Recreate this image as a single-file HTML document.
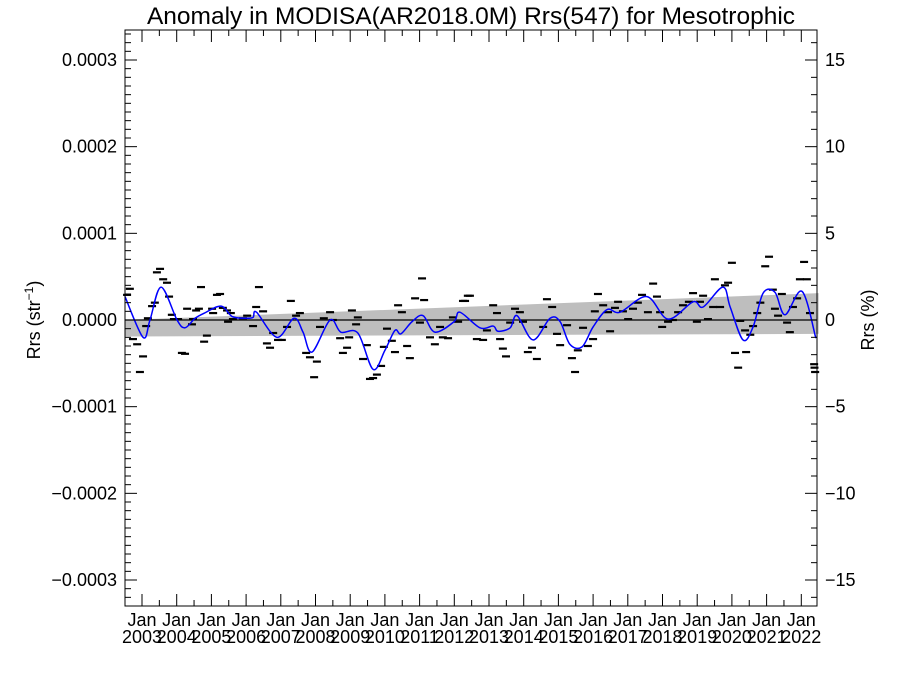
<!DOCTYPE html>
<html><head><meta charset="utf-8"><style>
body{margin:0;background:#fff;}
svg{display:block;font-family:"Liberation Sans",sans-serif;}
</style></head><body>
<svg id="chart" width="900" height="675" viewBox="0 0 900 675">
<text x="471" y="24" text-anchor="middle" font-size="24.5">Anomaly in MODISA(AR2018.0M) Rrs(547) for Mesotrophic</text>
<text transform="translate(40,320) rotate(-90)" text-anchor="middle" font-size="18">Rrs (str<tspan dy="-7" font-size="12">−1</tspan><tspan dy="7">)</tspan></text>
<text transform="translate(874,320) rotate(-90)" text-anchor="middle" font-size="18">Rrs (%)</text>
<g id="plot"></g>
</svg>
<script>
const lineYears=[2002.51,2003.03,2003.23,2003.55,2004.01,2004.24,2004.53,2004.8,2005.28,2005.6,2006.0,2006.2,2006.3,2006.89,2007.38,2007.64,2007.9,2008.42,2008.73,2009.22,2009.66,2010.0,2010.29,2010.46,2010.78,2011.1,2011.44,2011.99,2012.16,2012.74,2013.12,2013.26,2013.61,2013.81,2014.27,2014.76,2015.05,2015.33,2015.68,2016.0,2016.4,2016.78,2017.55,2018.16,2018.88,2019.17,2019.74,2019.95,2020.32,2020.61,2020.9,2021.24,2021.53,2022.02,2022.42];
const lineValues=[2.7,-2.0,0,3.8,0,-0.9,0.2,0.8,1.6,0.4,0.2,0.3,0.9,-2.0,0.2,-1.4,-3.7,0,-1.4,-1.5,-5.7,-3.5,-1.2,-1.6,-0.2,0.5,-1.4,-0.2,0.9,-0.9,-0.7,-1.3,-0.9,0.5,-2.3,0.2,-0.2,-2.8,-3.1,-0.8,1.2,0.9,2.7,0.1,2.1,1.5,3.8,1.5,-2.3,-0.8,3.1,3.2,0.6,3.3,-2.1];
const pointYears=[2002.57,2002.65,2002.74,2002.86,2002.94,2003.03,2003.12,2003.17,2003.29,2003.37,2003.43,2003.52,2003.61,2003.72,2003.78,2003.86,2003.92,2004.04,2004.15,2004.24,2004.30,2004.44,2004.47,2004.56,2004.64,2004.70,2004.79,2004.87,2005.02,2005.05,2005.16,2005.25,2005.33,2005.45,2005.48,2005.56,2005.62,2005.91,2006.03,2006.20,2006.29,2006.37,2006.49,2006.60,2006.69,2006.78,2006.92,2007.03,2007.18,2007.29,2007.44,2007.55,2007.73,2007.84,2007.96,2008.04,2008.13,2008.24,2008.42,2008.50,2008.71,2008.79,2008.91,2008.97,2009.05,2009.17,2009.22,2009.37,2009.48,2009.57,2009.66,2009.77,2009.89,2009.97,2010.06,2010.20,2010.29,2010.38,2010.49,2010.64,2010.72,2010.87,2011.01,2011.07,2011.13,2011.30,2011.44,2011.59,2011.67,2011.82,2011.96,2012.11,2012.25,2012.39,2012.31,2012.45,2012.65,2012.83,2012.94,2013.12,2013.23,2013.32,2013.40,2013.49,2013.61,2013.75,2013.89,2013.98,2014.12,2014.24,2014.38,2014.56,2014.67,2014.82,2014.96,2015.05,2015.25,2015.39,2015.48,2015.56,2015.71,2015.85,2016.00,2016.05,2016.14,2016.29,2016.43,2016.49,2016.63,2016.72,2016.86,2017.01,2017.15,2017.29,2017.41,2017.58,2017.73,2017.84,2017.93,2017.99,2018.16,2018.30,2018.45,2018.59,2018.76,2018.88,2018.99,2019.08,2019.17,2019.31,2019.46,2019.51,2019.66,2019.80,2019.89,2020.00,2020.09,2020.18,2020.24,2020.38,2020.41,2020.53,2020.61,2020.73,2020.82,2020.96,2021.07,2021.18,2021.24,2021.33,2021.44,2021.59,2021.67,2021.76,2021.88,2021.96,2022.08,2022.16,2022.25,2022.37,2022.38,2022.40];
const pointValues=[2.9,3.6,-2.2,-2.8,-6,-4.2,-0.7,0.2,1.6,2,5.5,5.9,4.7,4.3,2.7,0.6,0.1,0.1,-3.8,-3.9,1.3,-0.5,0.1,1.1,1.3,3.8,-2.5,-1.8,1.3,0.8,2.9,3,1.4,1.1,-0.2,0.8,0.1,0.2,0.5,-0.7,1.5,3.8,1,-2.7,-3.2,-1.5,-2.3,-2.3,-0.8,2.2,0.5,0.8,-3.8,-4.3,-6.6,-4.8,-0.8,0.2,0.9,0,-2.1,-3.8,-3.2,-2,1.1,-0.5,0.3,-4.5,-2.9,-6.8,-6.7,-6.3,-5.3,-3.1,-1,-2.4,-3.7,1.7,0.9,-3,-4.4,2.5,-0.3,4.8,2.3,-2,-2.8,-0.8,-2,-2.1,0.3,-0.2,2.2,2.8,2.2,2.8,-2.2,-2.3,-1.2,1.7,0.8,-2.2,-3.3,-4.2,-0.3,1.3,0.9,-0.2,-3.7,-3.2,-4.5,-0.8,2.4,1.5,-1.6,-2.9,-0.6,-4.4,-6,-3.5,-0.9,-3,-2.2,1,3,1.7,0.9,-1.3,1.4,2.1,1,0.1,1.3,2,2.9,0.9,4.2,2.7,0.9,-0.8,-0.2,0,0.9,1.7,2.1,3.1,-0.2,2.1,2.8,0.1,1.5,4.7,1.5,4,4.3,6.6,-3.8,-5.5,-0.1,-1.2,-3.7,-1.7,-0.7,0.8,2,6.2,7.3,3.5,1.3,0.5,3,-0.3,-1.4,1.5,2.5,4.7,6.7,4.7,0.8,-5.1,-5.5,-6];
const bandYears=[2002.5,2022.5];
const bandUpper=[0,3.1];
const bandLower=[-1.9,-1.6];
const leftTicks=["−0.0003","−0.0002","−0.0001","0.0000","0.0001","0.0002","0.0003"];
const leftTickValues=[-30,-20,-10,0,10,20,30];
const rightTicks=["−15","−10","−5","0","5","10","15"];
const rightTickValues=[-15,-10,-5,0,5,10,15];
const yearLabels=[2003,2004,2005,2006,2007,2008,2009,2010,2011,2012,2013,2014,2015,2016,2017,2018,2019,2020,2021,2022];

const L=125,R=817,T=30,B=606;
const xs=y=>142+(y-2003)*34.7;
const ys=v=>320-v*8.667;
const yp=p=>320-p*17.333;
const NS="http://www.w3.org/2000/svg";
const g=document.getElementById('plot');
function mk(t,a){const e=document.createElementNS(NS,t);for(const k in a)e.setAttribute(k,a[k]);g.appendChild(e);return e;}

const band=mk('polygon',{points:`${xs(bandYears[0])},${ys(bandUpper[0])} ${xs(bandYears[1])},${ys(bandUpper[1])} ${xs(bandYears[1])},${ys(bandLower[1])} ${xs(bandYears[0])},${ys(bandLower[0])}`,fill:'#bebebe'});


const z=mk('line',{x1:L,x2:R,y1:ys(0),y2:ys(0),stroke:'#000','stroke-width':1.2});


pointYears.forEach((yr,i)=>{
  const x=xs(yr),y=ys(pointValues[i]);
  const m=mk('line',{x1:x-4,x2:x+4,y1:y,y2:y,stroke:'#000','stroke-width':2.2});
  
  
});
const d=lineYears.map((yr,i)=>[xs(yr),ys(lineValues[i])]);
let path=`M${d[0][0]},${d[0][1]}`;
for(let i=0;i<d.length-1;i++){
  const p0=d[Math.max(0,i-1)],p1=d[i],p2=d[i+1],p3=d[Math.min(d.length-1,i+2)];
  const c1=[p1[0]+(p2[0]-p0[0])/6,p1[1]+(p2[1]-p0[1])/6];
  const c2=[p2[0]-(p3[0]-p1[0])/6,p2[1]-(p3[1]-p1[1])/6];
  path+=` C${c1[0]},${c1[1]} ${c2[0]},${c2[1]} ${p2[0]},${p2[1]}`;
}
const ln=mk('path',{d:path,fill:'none',stroke:'#0000ff','stroke-width':1.5});


const fr=mk('rect',{x:L,y:T,width:R-L,height:B-T,fill:'none',stroke:'#000','stroke-width':1});


for(let v=-33;v<=33;v++){
  const y=ys(v); if(y<T||y>B) continue;
  const len=v%10===0?12:6;
  mk('line',{x1:L,x2:L+len,y1:y,y2:y,stroke:'#000'});
}
leftTicks.forEach((t,i)=>{
  const e=mk('text',{x:L-8,y:ys(leftTickValues[i])+6,'text-anchor':'end','font-size':18});
  e.textContent=t;
  
  
});
for(let p=-16;p<=16;p++){
  const y=yp(p); if(y<T||y>B) continue;
  const len=p%5===0?12:6;
  mk('line',{x1:R,x2:R-len,y1:y,y2:y,stroke:'#000'});
}
rightTicks.forEach((t,i)=>{
  const e=mk('text',{x:R+8,y:yp(rightTickValues[i])+6,'text-anchor':'start','font-size':18});
  e.textContent=t;
  
  
});
for(let yr=2002.5;yr<=2022.5;yr+=0.5){
  const x=xs(yr); if(x<L||x>R) continue;
  const major=Math.abs(yr-Math.round(yr))<0.01;
  const len=major?12:6;
  mk('line',{x1:x,x2:x,y1:B,y2:B-len,stroke:'#000'});
  mk('line',{x1:x,x2:x,y1:T,y2:T+len,stroke:'#000'});
}
yearLabels.forEach(yr=>{
  const x=xs(yr);
  const a=mk('text',{x:x,y:626,'text-anchor':'middle','font-size':18});
  a.textContent='Jan';
  
  
  const b=mk('text',{x:x,y:643,'text-anchor':'middle','font-size':18});
  b.textContent=yr;
  
  
});
</script>
</body></html>
